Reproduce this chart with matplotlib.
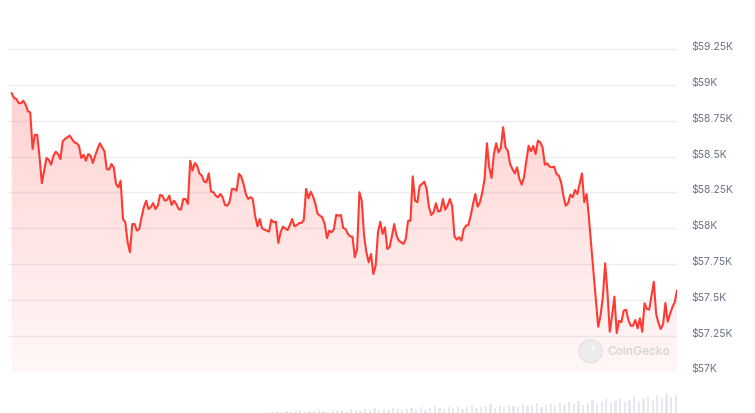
import numpy as np
import matplotlib
matplotlib.use('Agg')
import matplotlib.pyplot as plt
from matplotlib.colors import LinearSegmentedColormap
from matplotlib.patches import Circle, Polygon
from matplotlib.transforms import ScaledTranslation

# ---- data (BTC price, USD) ----
prices = [
    58942, 58909, 58902, 58874, 58872, 58890, 58862, 58816, 58809, 58553,
    58653, 58651, 58497, 58314, 58402, 58490, 58478, 58443, 58506, 58534,
    58518, 58483, 58607, 58623, 58635, 58646, 58623, 58600, 58593, 58576,
    58490, 58513, 58471, 58518, 58506, 58455, 58506, 58553, 58593, 58565,
    58537, 58413, 58409, 58448, 58425, 58309, 58286, 58332,
    58064, 58041, 57902, 57832, 58029, 58029, 57983, 57994, 58076, 58146,
    58192, 58134, 58146, 58176, 58134, 58157, 58232, 58227, 58192, 58197,
    58227, 58162, 58192, 58169, 58134, 58129, 58204, 58204, 58169, 58471,
    58402, 58455, 58436, 58383, 58367, 58325, 58321, 58383, 58255, 58251,
    58227, 58216, 58239, 58216, 58162, 58157, 58185, 58274, 58274, 58262,
    58379,
    58362, 58309, 58239, 58204, 58216, 58204, 58087, 58013, 58064, 57999,
    57990, 57983, 57976, 58059, 58041, 58045, 57897, 57971, 58010, 57999,
    57987, 58022, 58064, 58013, 58022, 58036, 58036, 58057, 58274, 58209,
    58255, 58220, 58169, 58099, 58087, 58076, 58029, 57930, 57983, 57971,
    57994, 58094, 58087, 58092, 58001, 57994, 57960, 57943, 57941,
    57797, 57855, 58251, 58192, 57948, 57832, 57762, 57820, 57680, 57738,
    57971, 58045, 57960, 58006, 57855, 57867, 57943, 58029, 57948, 57913,
    57902, 57890, 57925, 58052, 58052, 58362, 58192, 58181, 58297, 58309,
    58325, 58274, 58146, 58092, 58111, 58174, 58115, 58122, 58204, 58129,
    58157, 58204, 58157, 57943, 57920, 57937, 57913, 57994, 58018, 58022,
    58087,
    58169, 58239, 58150, 58181, 58251, 58344, 58593, 58425, 58351, 58518,
    58593, 58530, 58560, 58705, 58565, 58541, 58448, 58413, 58383, 58425,
    58344, 58304, 58355, 58471, 58576, 58537, 58574, 58518, 58611, 58600,
    58565, 58443, 58453, 58430, 58425, 58430, 58379, 58367, 58321, 58227,
    58157, 58174, 58234, 58216, 58267, 58239, 58309, 58383,
    58181, 58239, 58076, 57878, 57692, 57506, 57312, 57389, 57518, 57755,
    57552, 57277, 57389, 57522, 57268, 57354, 57343, 57424, 57431, 57361,
    57319, 57319, 57359, 57301, 57371, 57277, 57476, 57436, 57431, 57529,
    57626, 57401, 57338, 57296, 57331, 57478, 57347, 57401, 57448, 57483,
    57564,
]

# trading volume (relative units), one bar per two price points
volumes = [0] * 56 + [
    1.5, 2, 1, 2.5, 1.5, 2, 3, 1.5, 2, 2.5, 3, 2, 1.5, 3, 2.5,
    3, 2, 4, 3.5, 2.5, 4, 3, 5, 3.5, 4, 3, 5.5, 4, 3.5, 4.5,
    5, 4, 6, 3.5, 5, 7, 5.5, 4, 6.5, 5, 7.5, 4.5, 6, 8, 5,
    6, 7, 9, 5.5, 7, 6, 8.5, 7, 6, 9, 7.5, 8, 10, 6.5, 8,
    9, 7, 10, 8.5, 11, 9, 12, 8, 10.5, 13, 9.5, 11, 14, 10, 12,
    15, 11, 13, 16, 12, 14, 17, 13, 18, 15, 19, 16, 18,
]

y_ticks = [57000, 57250, 57500, 57750, 58000, 58250, 58500, 58750, 59000, 59250]
y_tick_labels = ['$57K', '$57.25K', '$57.5K', '$57.75K', '$58K',
                 '$58.25K', '$58.5K', '$58.75K', '$59K', '$59.25K']

# ---- layout ----
W, H = 755, 414
fig = plt.figure(figsize=(W / 100, H / 100), dpi=100)
fig.patch.set_facecolor('white')


def px(l, t, r, b):
    return [l / W, 1 - b / H, (r - l) / W, (b - t) / H]


YMIN, YMAX = 57000, 59400
LINE = '#ff3a33'

ax = fig.add_axes(px(8, 28.7, 677, 372.4))
x = np.arange(len(prices))
xmin, xmax = -1.6, len(prices) - 1
ax.set_xlim(xmin, xmax)
ax.set_ylim(YMIN, YMAX)

# gradient fill below line
cmap = LinearSegmentedColormap.from_list(
    'g', [(1.0, 0.23, 0.2, 0.04), (1.0, 0.23, 0.2, 0.27)])
grad = np.linspace(0, 1, 256).reshape(-1, 1)
im = ax.imshow(grad, extent=[xmin, xmax, YMIN, YMAX], origin='lower',
               aspect='auto', cmap=cmap, zorder=1, interpolation='bilinear')
verts = [(x[0], YMIN)] + list(zip(x, prices)) + [(x[-1], YMIN)]
poly = Polygon(verts, closed=True, facecolor='none', edgecolor='none')
ax.add_patch(poly)
im.set_clip_path(poly)

ax.plot(x, prices, color=LINE, lw=1.5, zorder=3, solid_joinstyle='round')

ax.set_yticks(y_ticks)
ax.set_yticklabels(y_tick_labels)
ax.yaxis.tick_right()
ax.grid(axis='y', color='#eceef2', lw=1.0, zorder=0)
ax.set_axisbelow(True)
ax.set_xticks([])
ax.tick_params(axis='y', length=0, pad=10, labelsize=7.5, labelcolor='#697386')
for lab in ax.get_yticklabels():
    lab.set_fontfamily(['Inter', 'DejaVu Sans'])
    lab.set_transform(lab.get_transform() +
                      ScaledTranslation(0, 4 / 100, fig.dpi_scale_trans))
for s in ax.spines.values():
    s.set_visible(False)
ax.set_facecolor('none')

# volume bars
axv = fig.add_axes(px(8, 390, 677, 414))
vx = np.arange(len(volumes)) * 2 + 0.5
axv.bar(vx, volumes, width=1.0, color='#e6e9ef', zorder=1)
axv.set_xlim(xmin, xmax)
axv.set_ylim(0, 24)
axv.axis('off')

# watermark
wm = fig.add_axes(px(576, 339, 672, 366))
wm.set_xlim(576, 672)
wm.set_ylim(366, 339)
wm.axis('off')
wm.add_patch(Circle((590.7, 352.3), 11.5, facecolor='#ececec', edgecolor='#e2e2e2', lw=1))
wm.add_patch(Circle((593, 349.5), 2.2, facecolor='#f8f8f8', edgecolor='none'))
wm.text(607.5, 352.5, 'CoinGecko', fontsize=8.5, fontweight='semibold',
        color='#d6d6d6', va='center', ha='left', family=['Inter', 'DejaVu Sans'])

fig.savefig('out.png', dpi=100, facecolor='white')
